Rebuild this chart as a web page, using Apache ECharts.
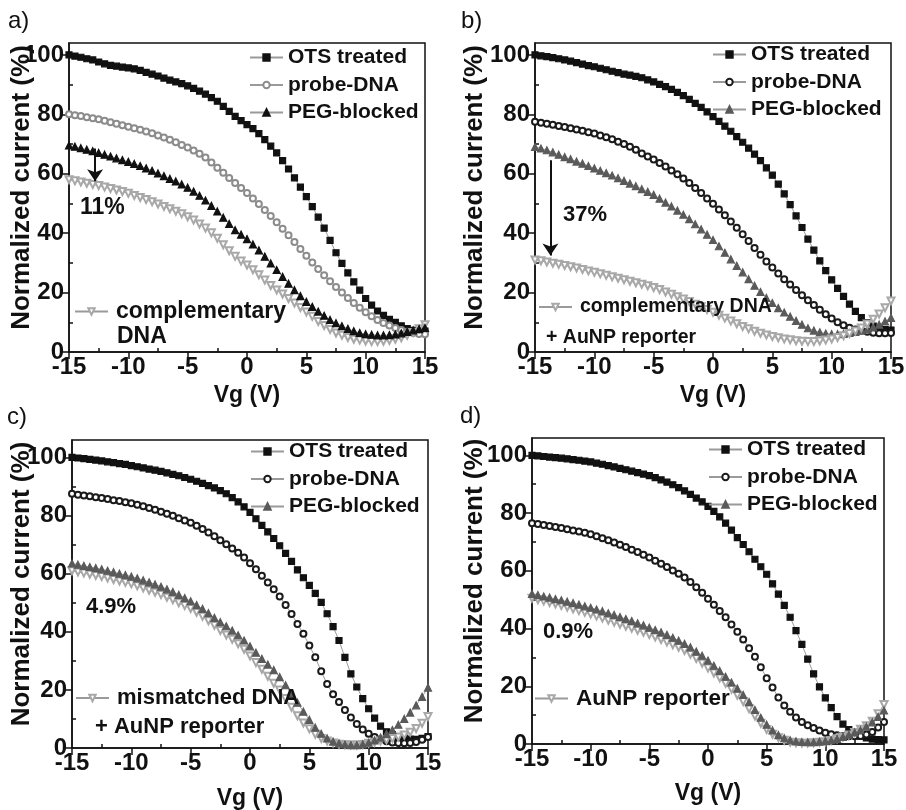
<!DOCTYPE html>
<html>
<head>
<meta charset="utf-8">
<title>Normalized current vs Vg</title>
<script src="https://cdn.jsdelivr.net/npm/echarts@6/dist/echarts.min.js"></script>
<style>
  html, body { margin: 0; padding: 0; background: #fff; }
  #chart { width: 906px; height: 810px; }
</style>
</head>
<body>
<div id="chart"></div>
<script>
// gate voltage sweep, same for every panel
var vg = [
  -15, -14.5, -14, -13.5, -13, -12.5, -12, -11.5, -11, -10.5,
  -10, -9.5, -9, -8.5, -8, -7.5, -7, -6.5, -6, -5.5,
  -5, -4.5, -4, -3.5, -3, -2.5, -2, -1.5, -1, -0.5,
  0, 0.5, 1, 1.5, 2, 2.5, 3, 3.5, 4, 4.5,
  5, 5.5, 6, 6.5, 7, 7.5, 8, 8.5, 9, 9.5,
  10, 10.5, 11, 11.5, 12, 12.5, 13, 13.5, 14, 14.5, 15
]
var xTicks = [-15, -10, -5, 0, 5, 10, 15]
var yTicks = [0, 20, 40, 60, 80, 100]

// a) complementary DNA
var otsA = [
  100.0, 99.6, 99.2, 98.7, 98.3, 97.6, 97.0, 96.5, 96.2, 95.9,
  95.6, 95.3, 94.8, 94.1, 93.5, 92.9, 92.2, 91.5, 90.9, 90.3,
  89.6, 88.7, 87.8, 86.8, 85.6, 84.4, 82.7, 81.0, 79.3, 77.9,
  76.5, 75.2, 73.5, 71.5, 69.3, 67.0, 64.4, 61.6, 58.6, 55.5,
  52.3, 48.9, 45.4, 41.7, 37.6, 33.4, 29.8, 26.6, 23.6, 20.8,
  18.0, 15.8, 13.8, 12.3, 11.0, 10.0, 8.8, 7.9, 7.3, 7.0, 7.0
]
var probeA = [
  80.0, 79.7, 79.4, 79.0, 78.7, 78.3, 77.8, 77.3, 76.8, 76.3,
  75.8, 75.3, 74.8, 74.2, 73.6, 72.9, 72.2, 71.4, 70.6, 69.7,
  68.8, 67.8, 66.7, 65.5, 63.8, 62.0, 60.3, 58.6, 56.9, 55.2,
  53.5, 51.7, 49.8, 47.8, 45.8, 43.7, 41.5, 39.3, 37.0, 34.7,
  32.4, 30.1, 27.9, 25.8, 23.8, 21.9, 20.0, 18.2, 16.5, 14.9,
  13.4, 12.0, 10.8, 9.8, 8.9, 8.1, 7.4, 6.8, 6.4, 6.1, 6.0
]
var pegA = [
  69.5, 69.1, 68.6, 68.1, 67.6, 67.0, 66.4, 65.8, 65.2, 64.6,
  64.0, 63.3, 62.6, 61.8, 61.0, 60.1, 59.2, 58.3, 57.4, 56.4,
  55.3, 54.0, 52.6, 51.0, 49.2, 47.3, 45.2, 43.1, 41.0, 39.5,
  38.0, 36.2, 34.2, 32.1, 29.8, 27.6, 25.3, 23.0, 20.8, 18.8,
  16.9, 15.2, 13.6, 12.2, 10.8, 9.7, 8.7, 7.8, 7.0, 6.4,
  6.0, 5.8, 5.6, 5.6, 5.7, 5.9, 6.3, 6.8, 7.3, 7.7, 8.1
]
var compA = [
  58.0, 57.6, 57.2, 56.8, 56.4, 56.0, 55.5, 55.0, 54.5, 54.0,
  53.4, 52.7, 52.0, 51.3, 50.6, 49.8, 49.0, 48.2, 47.4, 46.5,
  45.5, 44.4, 43.1, 41.7, 40.1, 38.3, 36.1, 34.1, 32.2, 30.6,
  29.3, 27.7, 26.0, 24.2, 22.4, 20.9, 19.5, 18.0, 16.5, 15.0,
  13.5, 12.0, 10.3, 8.9, 7.6, 6.4, 5.6, 4.9, 4.3, 4.0,
  3.7, 3.5, 3.5, 3.6, 3.9, 4.3, 4.8, 5.6, 6.6, 7.8, 9.2
]

// b) complementary DNA + AuNP reporter
var otsB = [
  100.0, 99.7, 99.4, 99.1, 98.7, 98.3, 97.9, 97.4, 96.9, 96.4,
  96.0, 95.5, 95.0, 94.5, 94.0, 93.5, 93.2, 92.8, 92.3, 91.6,
  90.9, 90.1, 89.3, 88.4, 87.4, 86.3, 85.0, 83.7, 82.3, 80.8,
  79.2, 77.6, 76.0, 74.3, 72.5, 70.6, 68.6, 66.6, 64.4, 62.0,
  59.5, 56.5, 53.2, 49.6, 45.8, 41.9, 38.0, 34.3, 30.7, 27.4,
  24.3, 21.4, 18.7, 16.1, 13.7, 11.6, 9.9, 8.7, 7.9, 7.5, 7.4
]
var probeB = [
  77.5, 77.2, 76.8, 76.5, 76.1, 75.7, 75.3, 74.9, 74.5, 74.0,
  73.5, 72.9, 72.3, 71.6, 70.8, 70.0, 69.1, 68.1, 66.8, 65.8,
  64.8, 63.6, 62.4, 61.1, 59.8, 58.4, 56.9, 55.2, 53.5, 51.7,
  49.9, 48.0, 46.0, 43.9, 41.8, 39.6, 37.4, 35.0, 32.7, 30.5,
  28.4, 26.4, 24.5, 22.7, 20.9, 19.1, 17.4, 15.8, 14.2, 12.7,
  11.3, 10.0, 9.0, 8.2, 7.6, 7.2, 6.8, 6.5, 6.3, 6.3, 6.4
]
var pegB = [
  69.0, 68.5, 67.9, 67.2, 66.4, 65.6, 64.9, 64.1, 63.4, 62.6,
  61.8, 61.0, 60.2, 59.4, 58.5, 57.6, 56.7, 55.8, 54.8, 53.9,
  52.9, 51.6, 50.3, 49.0, 47.6, 46.2, 44.7, 43.0, 41.3, 39.5,
  37.7, 35.6, 33.4, 31.2, 29.0, 26.8, 24.5, 22.3, 20.2, 18.2,
  16.5, 14.8, 13.3, 11.9, 10.5, 9.2, 8.0, 7.2, 6.6, 6.2,
  6.0, 6.0, 6.1, 6.4, 6.8, 7.2, 7.6, 8.3, 9.2, 10.3, 11.5
]
var compB = [
  31.0, 30.7, 30.3, 29.9, 29.5, 29.1, 28.7, 28.3, 27.8, 27.3,
  26.8, 26.3, 25.8, 25.3, 24.8, 24.3, 23.8, 23.3, 22.8, 22.3,
  21.7, 21.0, 20.2, 19.4, 18.6, 17.8, 17.0, 16.1, 15.2, 14.3,
  13.4, 12.4, 11.4, 10.4, 9.5, 8.6, 7.8, 7.0, 6.3, 5.7,
  5.2, 4.8, 4.4, 4.1, 3.8, 3.6, 3.5, 3.5, 3.7, 4.0,
  4.4, 4.9, 5.5, 6.2, 7.1, 8.1, 9.4, 11.0, 12.8, 14.9, 17.2
]

// c) mismatched DNA + AuNP reporter
var otsC = [
  100.0, 99.8, 99.6, 99.3, 99.1, 98.8, 98.5, 98.2, 97.9, 97.6,
  97.2, 96.8, 96.4, 96.0, 95.6, 95.2, 94.7, 94.2, 93.7, 93.1,
  92.5, 91.8, 91.1, 90.3, 89.5, 88.6, 87.5, 86.2, 84.7, 83.0,
  81.1, 78.9, 76.6, 74.4, 72.1, 69.6, 67.0, 64.2, 61.3, 58.6,
  56.0, 53.2, 50.1, 46.2, 41.8, 37.0, 31.2, 25.5, 21.0, 17.0,
  13.5, 10.3, 7.5, 5.6, 4.6, 3.9, 3.4, 3.1, 3.0, 3.3, 3.9
]
var probeC = [
  87.5, 87.2, 86.9, 86.6, 86.3, 86.0, 85.7, 85.3, 85.0, 84.6,
  84.2, 83.7, 83.2, 82.6, 82.0, 81.3, 80.6, 79.9, 79.1, 78.3,
  77.5, 76.5, 75.4, 74.2, 72.9, 71.5, 70.1, 68.7, 67.2, 65.6,
  63.6, 61.5, 59.3, 57.0, 54.6, 52.1, 49.2, 46.1, 42.7, 39.3,
  35.3, 31.2, 26.4, 22.0, 18.5, 15.8, 13.1, 10.5, 8.3, 6.4,
  4.9, 3.8, 2.9, 2.3, 1.9, 1.7, 1.6, 1.7, 2.1, 2.8, 3.8
]
var pegC = [
  63.5, 63.1, 62.7, 62.3, 61.9, 61.5, 61.0, 60.5, 60.0, 59.5,
  59.0, 58.4, 57.7, 57.0, 56.3, 55.5, 54.6, 53.7, 52.7, 51.6,
  50.5, 49.2, 47.9, 46.4, 44.8, 43.3, 41.9, 40.4, 38.8, 37.0,
  35.0, 32.8, 30.7, 28.7, 26.8, 24.4, 21.6, 18.6, 15.6, 12.5,
  9.7, 7.0, 4.9, 3.3, 2.2, 1.6, 1.2, 1.0, 1.0, 1.3,
  1.8, 2.6, 3.6, 4.8, 6.2, 8.0, 10.0, 12.2, 14.7, 17.6, 20.8
]
var mismatchC = [
  61.0, 60.6, 60.2, 59.8, 59.4, 59.0, 58.5, 58.0, 57.5, 57.0,
  56.5, 55.8, 55.1, 54.3, 53.6, 52.8, 51.9, 51.0, 50.0, 49.0,
  48.0, 46.7, 45.3, 43.8, 42.2, 40.4, 38.9, 37.4, 35.9, 34.0,
  31.7, 29.4, 27.1, 24.7, 22.3, 20.0, 17.0, 14.0, 11.1, 8.6,
  6.6, 4.7, 3.3, 2.4, 1.7, 1.3, 1.1, 1.0, 1.0, 1.2,
  1.6, 2.0, 2.4, 2.8, 3.3, 3.8, 4.5, 5.4, 6.7, 8.5, 10.8
]

// d) AuNP reporter only
var otsD = [
  100.0, 99.8, 99.6, 99.4, 99.2, 99.0, 98.8, 98.5, 98.3, 98.0,
  97.7, 97.3, 96.9, 96.4, 96.0, 95.5, 95.0, 94.5, 94.0, 93.5,
  93.0, 92.3, 91.5, 90.7, 89.8, 88.8, 87.7, 86.5, 85.2, 83.9,
  82.3, 80.6, 78.7, 76.5, 74.1, 71.5, 69.1, 66.6, 64.0, 61.4,
  58.8, 55.5, 51.9, 48.0, 43.9, 39.3, 34.5, 29.4, 24.3, 19.8,
  16.0, 12.6, 9.5, 6.9, 5.0, 3.6, 2.7, 2.1, 1.7, 1.5, 1.4
]
var probeD = [
  76.5, 76.2, 75.9, 75.5, 75.2, 74.8, 74.4, 74.0, 73.6, 73.2,
  72.7, 72.0, 71.3, 70.6, 69.8, 69.0, 68.2, 67.3, 66.5, 65.6,
  64.6, 63.5, 62.4, 61.3, 60.1, 59.0, 57.7, 56.1, 54.3, 52.4,
  50.3, 48.2, 46.1, 43.9, 41.4, 38.9, 36.2, 33.2, 30.2, 26.6,
  22.8, 19.6, 16.1, 13.3, 11.2, 9.2, 7.6, 6.5, 5.5, 4.7,
  3.9, 3.4, 3.0, 2.8, 2.7, 2.7, 2.8, 3.3, 4.2, 5.7, 7.6
]
var pegD = [
  52.0, 51.6, 51.1, 50.7, 50.2, 49.8, 49.3, 48.8, 48.3, 47.7,
  47.2, 46.6, 46.0, 45.3, 44.7, 44.0, 43.3, 42.6, 41.8, 41.1,
  40.3, 39.5, 38.7, 37.8, 36.8, 35.8, 34.7, 33.5, 32.0, 30.6,
  28.9, 27.1, 25.3, 23.3, 21.3, 19.2, 17.0, 14.5, 11.8, 9.1,
  6.7, 4.7, 3.1, 2.0, 1.3, 0.9, 0.7, 0.6, 0.6, 0.8,
  1.0, 1.3, 1.8, 2.5, 3.2, 4.0, 4.8, 6.0, 7.5, 9.4, 11.6
]
var aunpD = [
  50.5, 50.0, 49.5, 49.0, 48.5, 48.0, 47.4, 46.8, 46.2, 45.6,
  45.0, 44.3, 43.6, 42.9, 42.2, 41.5, 40.8, 40.1, 39.4, 38.7,
  37.9, 37.1, 36.2, 35.3, 34.4, 33.5, 32.4, 31.1, 29.6, 28.0,
  26.3, 24.6, 22.9, 21.0, 19.0, 16.9, 14.7, 12.2, 9.7, 7.2,
  5.0, 3.4, 2.2, 1.3, 0.6, 0.4, 0.3, 0.3, 0.4, 0.6,
  0.8, 1.2, 1.8, 2.4, 3.1, 4.0, 5.1, 6.3, 7.9, 10.5, 13.7
]

var FONT = 'Liberation Sans, Arial, Helvetica, sans-serif'
var INK = '#111'

// series names carry a panel prefix so every legend picks its own series
function stripName (name) {
  return name.split('|')[1]
}

function curve (gi, name, values, symbol, color, size, rotate) {
  return {
    name: name,
    type: 'line',
    xAxisIndex: gi,
    yAxisIndex: gi,
    data: vg.map(function (v, i) { return [v, values[i]] }),
    symbol: symbol,
    symbolSize: size,
    symbolRotate: rotate || 0,
    itemStyle: { color: color, borderColor: color, borderWidth: 1.2 },
    lineStyle: { color: '#9a9a9a', width: 1 },
    emphasis: { disabled: true },
    animation: false
  }
}

function arrow (x, yFrom, yTo) {
  return {
    silent: true,
    symbol: ['none', 'arrow'],
    symbolSize: 12,
    label: { show: false },
    lineStyle: { color: INK, width: 2, type: 'solid' },
    data: [[{ coord: [x, yFrom] }, { coord: [x, yTo] }]],
    animation: false
  }
}

function xAxisFor (gi, gap) {
  return {
    type: 'value',
    gridIndex: gi,
    min: -15,
    max: 15,
    interval: 5,
    name: 'Vg (V)',
    nameLocation: 'middle',
    nameGap: gap,
    nameMoveOverlap: false,
    nameTextStyle: { fontFamily: FONT, fontSize: 23, fontWeight: 'bold', color: INK },
    axisLine: { onZero: false, lineStyle: { color: INK, width: 1.5 } },
    axisTick: { customValues: xTicks, length: 7, lineStyle: { color: INK, width: 1.5 } },
    minorTick: { show: true, splitNumber: 2, length: -4, lineStyle: { color: INK, width: 1.5 } },
    axisLabel: { customValues: xTicks, margin: 3, fontFamily: FONT, fontSize: 24, fontWeight: 'bold', color: INK },
    splitLine: { show: false }
  }
}

function yAxisFor (gi, max, gap) {
  return {
    type: 'value',
    gridIndex: gi,
    min: 0,
    max: max,
    interval: 20,
    name: 'Normalized current (%)',
    nameLocation: 'middle',
    nameGap: gap,
    nameMoveOverlap: false,
    nameTextStyle: { fontFamily: FONT, fontSize: 26, fontWeight: 'bold', color: INK, padding: [0, 0, 0, 20] },
    axisLine: { onZero: false, lineStyle: { color: INK, width: 1.5 } },
    axisTick: { customValues: yTicks, length: 7, lineStyle: { color: INK, width: 1.5 } },
    minorTick: { show: true, splitNumber: 2, length: -4, lineStyle: { color: INK, width: 1.5 } },
    axisLabel: { customValues: yTicks, margin: 5, fontFamily: FONT, fontSize: 24, fontWeight: 'bold', color: INK },
    splitLine: { show: false }
  }
}

function topLegend (p, left, top) {
  return {
    data: [p + '|OTS treated', p + '|probe-DNA', p + '|PEG-blocked'],
    orient: 'vertical',
    left: left,
    top: top,
    padding: 0,
    itemGap: 6.5,
    itemWidth: 33,
    itemHeight: 8,
    selectedMode: false,
    formatter: stripName,
    textStyle: { fontFamily: FONT, fontSize: 21, fontWeight: 'bold', color: INK, lineHeight: 21 }
  }
}

function bottomLegend (name, left, top, size) {
  return {
    data: [name],
    left: left,
    top: top,
    padding: 0,
    itemWidth: 33,
    itemHeight: 8,
    selectedMode: false,
    formatter: stripName,
    textStyle: { fontFamily: FONT, fontSize: size, fontWeight: 'bold', color: INK, lineHeight: size, padding: [0, 0, 0, 3] }
  }
}

function note (txt, x, yc, size, weight) {
  return {
    type: 'text',
    left: x,
    top: yc - size / 2,
    silent: true,
    style: { text: txt, fontFamily: FONT, fontSize: size, fontWeight: weight || 'bold', fill: INK }
  }
}

var grey = '#a8a8a8'
var dark = '#1a1a1a'
var mid = '#5a5a5a'

var seriesA = [
  curve(0, 'a|OTS treated', otsA, 'rect', INK, 6),
  curve(0, 'a|probe-DNA', probeA, 'emptyCircle', '#8c8c8c', 6),
  curve(0, 'a|complementary', compA, 'emptyTriangle', grey, 7, 180),
  curve(0, 'a|PEG-blocked', pegA, 'triangle', INK, 7)
]
seriesA[3].markLine = arrow(-12.8, 68.5, 57.5)

var seriesB = [
  curve(1, 'b|OTS treated', otsB, 'rect', INK, 6),
  curve(1, 'b|probe-DNA', probeB, 'emptyCircle', dark, 6),
  curve(1, 'b|PEG-blocked', pegB, 'triangle', mid, 7),
  curve(1, 'b|complementary DNA', compB, 'emptyTriangle', grey, 7, 180)
]
seriesB[2].markLine = arrow(-13.7, 64.5, 32.5)

var seriesC = [
  curve(2, 'c|OTS treated', otsC, 'rect', INK, 6),
  curve(2, 'c|probe-DNA', probeC, 'emptyCircle', dark, 6),
  curve(2, 'c|mismatched DNA', mismatchC, 'emptyTriangle', grey, 7, 180),
  curve(2, 'c|PEG-blocked', pegC, 'triangle', mid, 7)
]

var seriesD = [
  curve(3, 'd|OTS treated', otsD, 'rect', INK, 6),
  curve(3, 'd|probe-DNA', probeD, 'emptyCircle', dark, 6),
  curve(3, 'd|AuNP reporter', aunpD, 'emptyTriangle', grey, 7, 180),
  curve(3, 'd|PEG-blocked', pegD, 'triangle', mid, 7)
]

var chart = echarts.init(document.getElementById('chart'), null, { renderer: 'canvas' })
chart.setOption({
  backgroundColor: '#fff',
  animation: false,
  grid: [
    { left: 69, top: 43, width: 356, height: 309 },
    { left: 535, top: 43, width: 356, height: 309 },
    { left: 72, top: 440, width: 356, height: 308 },
    { left: 532, top: 438, width: 352, height: 306 }
  ].map(function (g) {
    g.show = true
    g.borderColor = INK
    g.borderWidth = 1.5
    g.backgroundColor = 'transparent'
    g.outerBoundsMode = 'none'
    return g
  }),
  xAxis: [xAxisFor(0, 32), xAxisFor(1, 32), xAxisFor(2, 39), xAxisFor(3, 38)],
  yAxis: [yAxisFor(0, 104, 34), yAxisFor(1, 104, 47), yAxisFor(2, 106, 37), yAxisFor(3, 106, 44)],
  legend: [
    topLegend('a', 249, 47),
    topLegend('b', 712, 44),
    topLegend('c', 250, 441),
    topLegend('d', 708, 439),
    bottomLegend('a|complementary', 74, 300, 23),
    bottomLegend('b|complementary DNA', 538, 297, 19.5),
    bottomLegend('c|mismatched DNA', 75, 687, 22),
    bottomLegend('d|AuNP reporter', 534, 687, 22.5)
  ],
  graphic: [
    note('a)', 8, 21, 24, 'normal'),
    note('b)', 461, 21, 24, 'normal'),
    note('c)', 7, 417, 24, 'normal'),
    note('d)', 460, 416, 24, 'normal'),
    note('11%', 80, 208, 23),
    note('37%', 563, 215, 22),
    note('4.9%', 86, 607, 22),
    note('0.9%', 543, 632, 22),
    note('DNA', 117, 337, 23),
    note('+ AuNP reporter', 546, 337, 19.5),
    note('+ AuNP reporter', 95, 727, 22)
  ],
  series: [].concat(seriesA, seriesB, seriesC, seriesD)
})
</script>
</body>
</html>
